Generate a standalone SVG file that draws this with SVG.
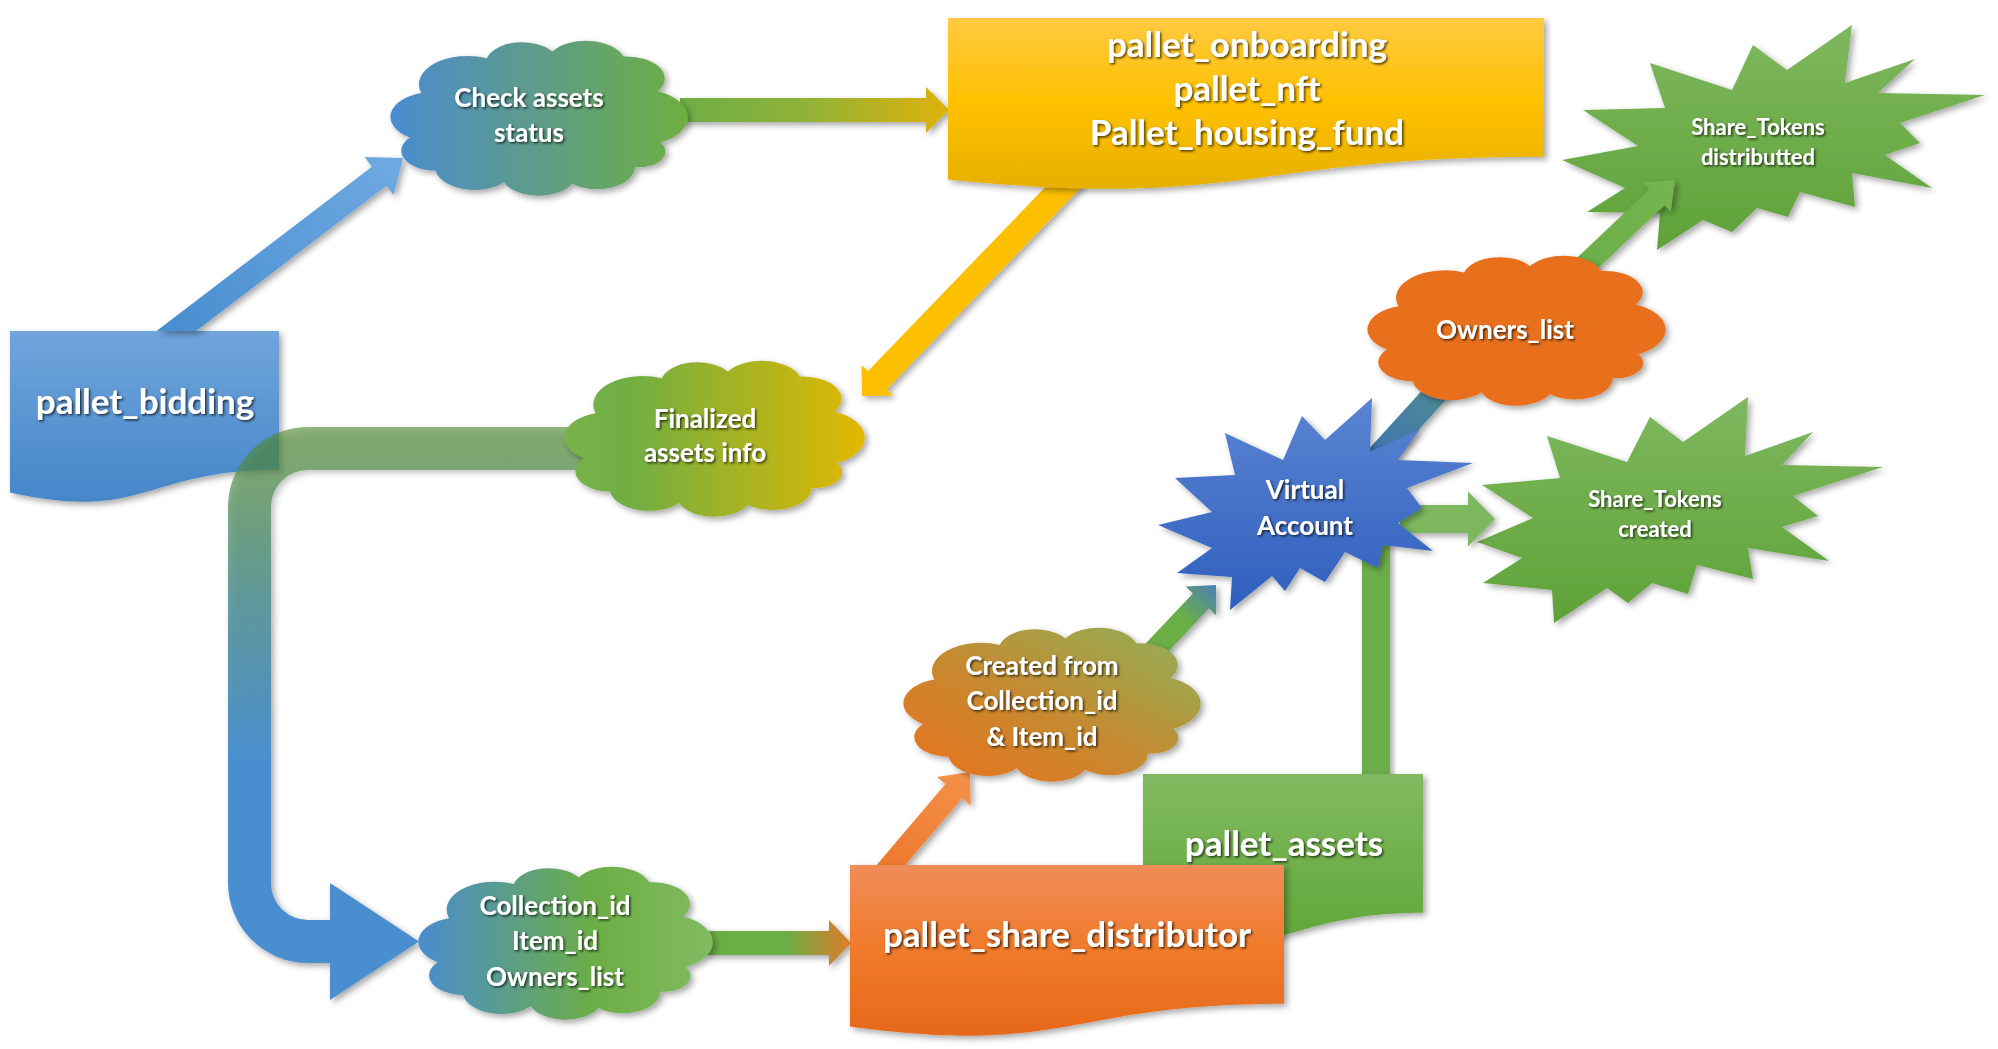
<svg xmlns="http://www.w3.org/2000/svg" width="1998" height="1049" viewBox="0 0 1998 1049">
<defs>
<style>
.t{font-family:Lato,"Open Sans","Liberation Sans",sans-serif;font-weight:bold;fill:#fff;text-anchor:middle;filter:url(#ts)}
.big{font-size:35px}
.mid{font-size:26px}
.sm{font-size:22px}
.s{filter:url(#sh)}
</style>
<filter id="sh" x="-10%" y="-10%" width="130%" height="130%"><feDropShadow dx="3" dy="3" stdDeviation="3" flood-color="#000" flood-opacity="0.35"/></filter>
<filter id="ts" x="-10%" y="-20%" width="130%" height="150%"><feDropShadow dx="1.5" dy="1.5" stdDeviation="1" flood-color="#000" flood-opacity="0.7"/></filter>
<linearGradient id="gBlue" x1="0" y1="0" x2="0" y2="1"><stop offset="0" stop-color="#70a5dc"/><stop offset="1" stop-color="#4586c9"/></linearGradient>
<linearGradient id="gYellow" x1="0" y1="0" x2="0" y2="1"><stop offset="0" stop-color="#ffca40"/><stop offset="0.5" stop-color="#ffc000"/><stop offset="1" stop-color="#e6b000"/></linearGradient>
<linearGradient id="gOrange" x1="0" y1="0" x2="0" y2="1"><stop offset="0" stop-color="#f08c58"/><stop offset="0.5" stop-color="#f07a2a"/><stop offset="1" stop-color="#e6691a"/></linearGradient>
<linearGradient id="gGreen" x1="0" y1="0" x2="0" y2="1"><stop offset="0" stop-color="#80ba60"/><stop offset="1" stop-color="#60a638"/></linearGradient>
<linearGradient id="gStar" x1="0" y1="0" x2="0" y2="1"><stop offset="0" stop-color="#7eb85f"/><stop offset="1" stop-color="#5fa237"/></linearGradient>
<linearGradient id="gVirt" x1="0" y1="0" x2="0" y2="1"><stop offset="0" stop-color="#5b84d2"/><stop offset="1" stop-color="#2f5fbe"/></linearGradient>
<linearGradient id="gCheck" x1="0" y1="0" x2="1" y2="0"><stop offset="0" stop-color="#4a8cd0"/><stop offset="0.5" stop-color="#5e9c88"/><stop offset="1" stop-color="#6eaf40"/></linearGradient>
<linearGradient id="gFinal" x1="0" y1="0" x2="1" y2="0"><stop offset="0" stop-color="#7ab34a"/><stop offset="0.2" stop-color="#6eae44"/><stop offset="1" stop-color="#e2b800"/></linearGradient>
<linearGradient id="gColl" x1="0" y1="0" x2="1" y2="0"><stop offset="0" stop-color="#4a8ccf"/><stop offset="0.6" stop-color="#6cae45"/><stop offset="1" stop-color="#82bb62"/></linearGradient>
<linearGradient id="gCreated" x1="0" y1="1" x2="1" y2="0"><stop offset="0" stop-color="#ec711c"/><stop offset="0.45" stop-color="#c8882f"/><stop offset="1" stop-color="#8db35a"/></linearGradient>
<linearGradient id="gA1" gradientUnits="userSpaceOnUse" x1="180" y1="331" x2="400" y2="160"><stop offset="0" stop-color="#4a8fd0"/><stop offset="1" stop-color="#6fa9e2"/></linearGradient>
<linearGradient id="gA2" gradientUnits="userSpaceOnUse" x1="686" y1="0" x2="950" y2="0"><stop offset="0" stop-color="#6fae45"/><stop offset="0.45" stop-color="#90b238"/><stop offset="1" stop-color="#e0b20b"/></linearGradient>
<linearGradient id="gU" gradientUnits="userSpaceOnUse" x1="0" y1="430" x2="0" y2="760"><stop offset="0" stop-color="#4e8a2e" stop-opacity="0.6"/><stop offset="0.5" stop-color="#4f8f90" stop-opacity="0.85"/><stop offset="1" stop-color="#4a8fd0"/></linearGradient>
<linearGradient id="gA5" gradientUnits="userSpaceOnUse" x1="705" y1="0" x2="851" y2="0"><stop offset="0" stop-color="#6aae45"/><stop offset="0.55" stop-color="#6aae45"/><stop offset="1" stop-color="#e07b28"/></linearGradient>
<linearGradient id="gA6" gradientUnits="userSpaceOnUse" x1="880" y1="878" x2="970" y2="772"><stop offset="0" stop-color="#ec772a"/><stop offset="1" stop-color="#f5914a"/></linearGradient>
<linearGradient id="gA7" gradientUnits="userSpaceOnUse" x1="1145" y1="660" x2="1216" y2="585"><stop offset="0" stop-color="#6aae45"/><stop offset="0.55" stop-color="#6aae45"/><stop offset="1" stop-color="#4c80b8"/></linearGradient>
<linearGradient id="gA10" gradientUnits="userSpaceOnUse" x1="1375" y1="460" x2="1455" y2="372"><stop offset="0" stop-color="#3f75b0"/><stop offset="1" stop-color="#4f8e8e"/></linearGradient>
<linearGradient id="gA11" gradientUnits="userSpaceOnUse" x1="1575" y1="275" x2="1675" y2="180"><stop offset="0" stop-color="#6aae45"/><stop offset="1" stop-color="#76b452"/></linearGradient>
<symbol id="cloud" viewBox="-2 1 105 95" preserveAspectRatio="none">
<path d="M5,60 A15,15 0 0 1 9,33 A17.1,17.1 0 0 1 32,12 A12.8,12.8 0 0 1 55,8 A13.9,13.9 0 0 1 80,11 A13.3,13.3 0 0 1 92,32 A17,17 0 0 1 93,63 A9.6,9.6 0 0 1 84,78 A13.3,13.3 0 0 1 62,88 A13.2,13.2 0 0 1 38,87 A13.8,13.8 0 0 1 14,80 A12,12 0 0 1 5,60 Z"/>
</symbol>
</defs>
<rect width="1998" height="1049" fill="#fff"/>

<g id="pallet_bidding">
<path class="s" d="M10,331 H279 V469.7 C144.5,469.7 144.5,522.6 10,492.6 Z" fill="url(#gBlue)"/>
<text class="t big" x="145" y="414">pallet_bidding</text>
</g>
<g id="share_tokens_created">
<polygon class="s" fill="url(#gStar)" points="1748,397 1745,456 1813,432 1782,465 1883,467 1793,496 1818,516 1782,527 1829,561 1748,548 1753,579 1697,565 1688,594 1652,583 1628,603 1607,588 1554,623 1552,590 1483,583 1522,558 1477,542 1533,518 1482,485 1560,478 1547,436 1627,462 1650,417 1683,442"/>
<text class="t sm" x="1655" y="507">Share_Tokens</text>
<text class="t sm" x="1655" y="537">created</text>
</g>
<g id="share_tokens_distributed">
<polygon class="s" fill="url(#gStar)" points="1852,25 1845,83 1915,59 1878,93 1985,95 1900,123 1920,143 1885,155 1932,188 1852,173 1855,207 1800,192 1788,217 1757,208 1732,232 1703,220 1657,250 1660,213 1587,212 1625,188 1562,160 1638,146 1583,110 1665,108 1650,63 1732,90 1753,45 1787,70"/>
<text class="t sm" x="1758" y="135">Share_Tokens</text>
<text class="t sm" x="1758" y="165">distributted</text>
</g>

<g id="connectors">
<polygon class="s" fill="url(#gA1)" points="196.1,331 386.4,185.7 393.7,195.3 403,158 364.6,157.1 371.9,166.7 156.6,331"/>
<polygon class="s" fill="url(#gA2)" points="680,98 926,98 926,87 949,110 926,133 926,122 680,122"/>
<polygon class="s" fill="#fcc000" points="1065.6,166 867.9,371.2 861.5,364.9 862,396 893.1,395.5 886.7,389.2 1084.4,184"/>
<path class="s" fill="url(#gU)" d="M620,427 H308 A80,80 0 0 0 228,507 V883 A80,80 0 0 0 308,963 H330 V1000 L419,941.5 L330,883 V920 H308 A37,37 0 0 1 271,883 V507 A37,37 0 0 1 308,470 H620 Z"/>
<polygon class="s" fill="url(#gA5)" points="705,931 829,931 829,920 851,943 829,966 829,955 705,955"/>
<polygon class="s" fill="url(#gA6)" points="888.4,885.1 962.2,798.2 970.6,805.4 970,772 937,776.9 945.4,784 871.6,870.9"/>
<polygon class="s" fill="url(#gA7)" points="1151.1,669.9 1208.9,608.6 1216.2,615.4 1216,585 1185.6,586.6 1192.9,593.5 1135.1,654.8"/>
<rect class="s" x="1362" y="540" width="28" height="240" fill="#6cae48"/>
<polygon class="s" fill="url(#gA10)" points="1383.9,468.1 1463.9,380.1 1446.1,363.9 1366.1,451.9"/>
<polygon class="s" fill="#7db85e" points="1400,505 1468,505 1468,491.5 1495,519 1468,546.5 1468,533 1400,533"/>
<polygon class="s" fill="url(#gA11)" points="1582.6,283 1664.5,205.2 1670.7,211.7 1675,180 1643.1,182.7 1649.3,189.2 1567.4,267"/>
</g>

<g id="check_assets">
<use class="s" href="#cloud" x="390" y="40" width="299" height="157" fill="url(#gCheck)"/>
<text class="t mid" x="529" y="107">Check assets</text>
<text class="t mid" x="529" y="142">status</text>
</g>
<g id="pallet_onboarding">
<path class="s" d="M948,18 H1544 V156.7 C1246,156.7 1246,209.6 948,179.6 Z" fill="url(#gYellow)"/>
<text class="t big" x="1247" y="57">pallet_onboarding</text>
<text class="t big" x="1247" y="101">pallet_nft</text>
<text class="t big" x="1247" y="145">Pallet_housing_fund</text>
</g>
<g id="finalized_assets">
<use class="s" href="#cloud" x="564" y="360" width="302" height="158" fill="url(#gFinal)"/>
<text class="t mid" x="705" y="428">Finalized</text>
<text class="t mid" x="705" y="462">assets info</text>
</g>
<g id="collection_info">
<use class="s" href="#cloud" x="418" y="866" width="296" height="155" fill="url(#gColl)"/>
<text class="t mid" x="555" y="915">Collection_id</text>
<text class="t mid" x="555" y="950">Item_id</text>
<text class="t mid" x="555" y="986">Owners_list</text>
</g>
<g id="pallet_assets">
<path class="s" d="M1143,774 H1423 V912.7 C1283,912.7 1283,965.6 1143,935.6 Z" fill="url(#gGreen)"/>
<text class="t big" x="1284" y="856">pallet_assets</text>
</g>
<g id="pallet_share_distributor">
<path class="s" d="M850,865 H1284 V1003.7 C1067,1003.7 1067,1056.6 850,1026.6 Z" fill="url(#gOrange)"/>
<text class="t big" x="1067" y="947">pallet_share_distributor</text>
</g>
<g id="created_from">
<use class="s" href="#cloud" x="903" y="627" width="299" height="156" fill="url(#gCreated)"/>
<text class="t mid" x="1042" y="675">Created from</text>
<text class="t mid" x="1042" y="710">Collection_id</text>
<text class="t mid" x="1042" y="746">&amp; Item_id</text>
</g>
<g id="virtual_account">
<polygon class="s" fill="url(#gVirt)" points="1372,398 1370,452 1420,429 1398,460 1473,463 1407,488 1422,508 1398,523 1433,551 1383,545 1378,568 1345,552 1325,582 1300,568 1285,591 1272,576 1230,610 1232,577 1177,573 1212,548 1158,525 1212,512 1175,478 1235,475 1225,433 1283,460 1302,416 1325,440"/>
<text class="t mid" x="1305" y="499">Virtual</text>
<text class="t mid" x="1305" y="535">Account</text>
</g>
<g id="owners_list">
<use class="s" href="#cloud" x="1367" y="255" width="300" height="152" fill="#e8701e"/>
<text class="t mid" x="1505" y="339">Owners_list</text>
</g>
</svg>
